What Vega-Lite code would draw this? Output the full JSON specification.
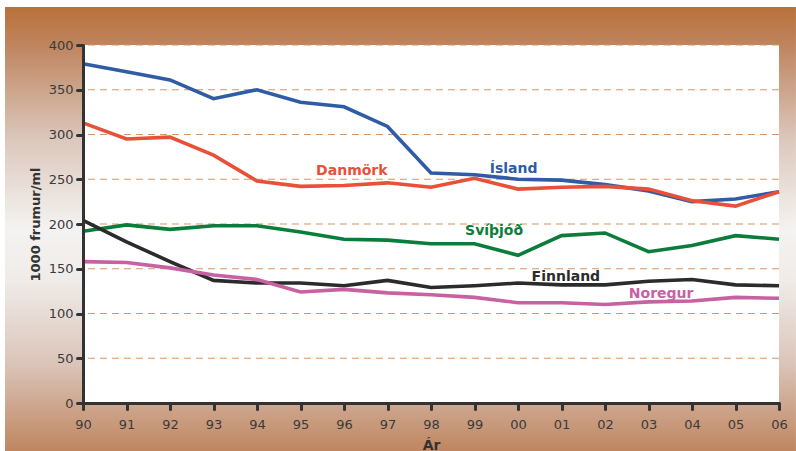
{
  "$schema": "https://vega.github.io/schema/vega-lite/v6.json",
  "width": 696,
  "height": 358,
  "autosize": {"type": "none"},
  "padding": {"left": 83, "top": 45, "right": 17, "bottom": 48},
  "background": "white",
  "config": {"font": "DejaVu Sans", "view": {"stroke": null}},
  "datasets": {
    "series": [
      {"year": 1990, "country": "Ísland", "value": 379},
      {"year": 1991, "country": "Ísland", "value": 370},
      {"year": 1992, "country": "Ísland", "value": 361},
      {"year": 1993, "country": "Ísland", "value": 340},
      {"year": 1994, "country": "Ísland", "value": 350},
      {"year": 1995, "country": "Ísland", "value": 336},
      {"year": 1996, "country": "Ísland", "value": 331},
      {"year": 1997, "country": "Ísland", "value": 309},
      {"year": 1998, "country": "Ísland", "value": 257},
      {"year": 1999, "country": "Ísland", "value": 255},
      {"year": 2000, "country": "Ísland", "value": 250},
      {"year": 2001, "country": "Ísland", "value": 249},
      {"year": 2002, "country": "Ísland", "value": 244},
      {"year": 2003, "country": "Ísland", "value": 237},
      {"year": 2004, "country": "Ísland", "value": 225},
      {"year": 2005, "country": "Ísland", "value": 228},
      {"year": 2006, "country": "Ísland", "value": 236},
      {"year": 1990, "country": "Danmörk", "value": 313},
      {"year": 1991, "country": "Danmörk", "value": 295},
      {"year": 1992, "country": "Danmörk", "value": 297},
      {"year": 1993, "country": "Danmörk", "value": 277},
      {"year": 1994, "country": "Danmörk", "value": 248},
      {"year": 1995, "country": "Danmörk", "value": 242},
      {"year": 1996, "country": "Danmörk", "value": 243},
      {"year": 1997, "country": "Danmörk", "value": 246},
      {"year": 1998, "country": "Danmörk", "value": 241},
      {"year": 1999, "country": "Danmörk", "value": 251},
      {"year": 2000, "country": "Danmörk", "value": 239},
      {"year": 2001, "country": "Danmörk", "value": 241},
      {"year": 2002, "country": "Danmörk", "value": 242},
      {"year": 2003, "country": "Danmörk", "value": 239},
      {"year": 2004, "country": "Danmörk", "value": 226},
      {"year": 2005, "country": "Danmörk", "value": 220},
      {"year": 2006, "country": "Danmörk", "value": 236},
      {"year": 1990, "country": "Svíþjóð", "value": 192},
      {"year": 1991, "country": "Svíþjóð", "value": 199},
      {"year": 1992, "country": "Svíþjóð", "value": 194},
      {"year": 1993, "country": "Svíþjóð", "value": 198},
      {"year": 1994, "country": "Svíþjóð", "value": 198},
      {"year": 1995, "country": "Svíþjóð", "value": 191},
      {"year": 1996, "country": "Svíþjóð", "value": 183},
      {"year": 1997, "country": "Svíþjóð", "value": 182},
      {"year": 1998, "country": "Svíþjóð", "value": 178},
      {"year": 1999, "country": "Svíþjóð", "value": 178},
      {"year": 2000, "country": "Svíþjóð", "value": 165},
      {"year": 2001, "country": "Svíþjóð", "value": 187},
      {"year": 2002, "country": "Svíþjóð", "value": 190},
      {"year": 2003, "country": "Svíþjóð", "value": 169},
      {"year": 2004, "country": "Svíþjóð", "value": 176},
      {"year": 2005, "country": "Svíþjóð", "value": 187},
      {"year": 2006, "country": "Svíþjóð", "value": 183},
      {"year": 1990, "country": "Finnland", "value": 204},
      {"year": 1991, "country": "Finnland", "value": 180},
      {"year": 1992, "country": "Finnland", "value": 158},
      {"year": 1993, "country": "Finnland", "value": 137},
      {"year": 1994, "country": "Finnland", "value": 134},
      {"year": 1995, "country": "Finnland", "value": 134},
      {"year": 1996, "country": "Finnland", "value": 131},
      {"year": 1997, "country": "Finnland", "value": 137},
      {"year": 1998, "country": "Finnland", "value": 129},
      {"year": 1999, "country": "Finnland", "value": 131},
      {"year": 2000, "country": "Finnland", "value": 134},
      {"year": 2001, "country": "Finnland", "value": 132},
      {"year": 2002, "country": "Finnland", "value": 132},
      {"year": 2003, "country": "Finnland", "value": 136},
      {"year": 2004, "country": "Finnland", "value": 138},
      {"year": 2005, "country": "Finnland", "value": 132},
      {"year": 2006, "country": "Finnland", "value": 131},
      {"year": 1990, "country": "Noregur", "value": 158},
      {"year": 1991, "country": "Noregur", "value": 157},
      {"year": 1992, "country": "Noregur", "value": 151},
      {"year": 1993, "country": "Noregur", "value": 143},
      {"year": 1994, "country": "Noregur", "value": 138},
      {"year": 1995, "country": "Noregur", "value": 124},
      {"year": 1996, "country": "Noregur", "value": 127},
      {"year": 1997, "country": "Noregur", "value": 123},
      {"year": 1998, "country": "Noregur", "value": 121},
      {"year": 1999, "country": "Noregur", "value": 118},
      {"year": 2000, "country": "Noregur", "value": 112},
      {"year": 2001, "country": "Noregur", "value": 112},
      {"year": 2002, "country": "Noregur", "value": 110},
      {"year": 2003, "country": "Noregur", "value": 113},
      {"year": 2004, "country": "Noregur", "value": 114},
      {"year": 2005, "country": "Noregur", "value": 118},
      {"year": 2006, "country": "Noregur", "value": 117}
    ],
    "labels": [
      {"country": "Danmörk", "year": 1996.18, "value": 259},
      {"country": "Ísland", "year": 1999.9, "value": 261.5},
      {"country": "Svíþjóð", "year": 1999.45, "value": 192},
      {"country": "Finnland", "year": 2001.1, "value": 141},
      {"country": "Noregur", "year": 2003.29, "value": 122}
    ],
    "grid": [
      {"v": 50}, {"v": 100}, {"v": 150}, {"v": 200}, {"v": 250}, {"v": 300}, {"v": 350}, {"v": 400}
    ]
  },
  "layer": [
    {
      "data": {"values": [{}]},
      "mark": {
        "type": "rect",
        "clip": false,
        "color": {
          "gradient": "linear",
          "x1": 0, "y1": 0, "x2": 0, "y2": 1,
          "stops": [
            {"offset": 0, "color": "#b8713a"},
            {"offset": 0.09, "color": "#bf8660"},
            {"offset": 0.3, "color": "#dcc8bd"},
            {"offset": 0.5, "color": "#f4f3f1"},
            {"offset": 0.62, "color": "#efebe8"},
            {"offset": 0.8, "color": "#dbc5ba"},
            {"offset": 1, "color": "#bf8660"}
          ]
        }
      },
      "encoding": {
        "x": {"datum": 1988.207, "type": "quantitative"},
        "x2": {"datum": 2006.39},
        "y": {"datum": 442.5, "type": "quantitative"},
        "y2": {"datum": -53.6}
      }
    },
    {
      "data": {"values": [{}]},
      "mark": {"type": "rect", "color": "white"},
      "encoding": {
        "x": {"datum": 1990, "type": "quantitative"},
        "x2": {"datum": 2006},
        "y": {"datum": 0, "type": "quantitative"},
        "y2": {"datum": 400}
      }
    },
    {
      "data": {"name": "grid"},
      "mark": {"type": "rule", "color": "#d9955f", "strokeWidth": 1, "strokeDash": [7, 5]},
      "encoding": {
        "y": {"field": "v", "type": "quantitative"}
      }
    },
    {
      "data": {"name": "series"},
      "mark": {"type": "line", "strokeWidth": 3.6, "strokeJoin": "miter"},
      "encoding": {
        "x": {
          "field": "year",
          "type": "quantitative",
          "scale": {"domain": [1990, 2006], "nice": false, "zero": false},
          "axis": {
            "title": "Ár",
            "values": [1990, 1991, 1992, 1993, 1994, 1995, 1996, 1997, 1998, 1999, 2000, 2001, 2002, 2003, 2004, 2005, 2006],
            "labelExpr": "slice(toString(datum.value), 2)",
            "grid": false,
            "zindex": 1,
            "domainColor": "#333333",
            "domainWidth": 3,
            "tickColor": "#333333",
            "tickWidth": 3,
            "tickSize": 6,
            "tickCap": "round",
            "labelColor": "#3a3a3a",
            "labelFontSize": 13,
            "labelPadding": 9,
            "labelFlush": false,
            "titleFontSize": 14,
            "titleFontWeight": "bold",
            "titleColor": "#333333",
            "titlePadding": 7
          }
        },
        "y": {
          "field": "value",
          "type": "quantitative",
          "scale": {"domain": [0, 400], "nice": false},
          "axis": {
            "title": "1000 frumur/ml",
            "values": [0, 50, 100, 150, 200, 250, 300, 350, 400],
            "grid": false,
            "zindex": 1,
            "domainColor": "#333333",
            "domainWidth": 3,
            "tickColor": "#333333",
            "tickWidth": 3,
            "tickSize": 6,
            "tickCap": "round",
            "labelColor": "#3a3a3a",
            "labelFontSize": 13,
            "labelPadding": 4,
            "titleFontSize": 13,
            "titleFontWeight": "bold",
            "titleColor": "#333333",
            "titlePadding": 6
          }
        },
        "color": {
          "field": "country",
          "type": "nominal",
          "scale": {
            "domain": ["Ísland", "Danmörk", "Svíþjóð", "Finnland", "Noregur"],
            "range": ["#2f5ca5", "#e8503a", "#0a7d3a", "#2b2b2b", "#c761a2"]
          },
          "legend": null
        }
      }
    },
    {
      "data": {"name": "labels"},
      "mark": {"type": "text", "fontWeight": "bold", "fontSize": 14, "align": "center", "baseline": "middle"},
      "encoding": {
        "x": {"field": "year", "type": "quantitative"},
        "y": {"field": "value", "type": "quantitative"},
        "text": {"field": "country"},
        "color": {"field": "country", "type": "nominal"}
      }
    }
  ]
}
